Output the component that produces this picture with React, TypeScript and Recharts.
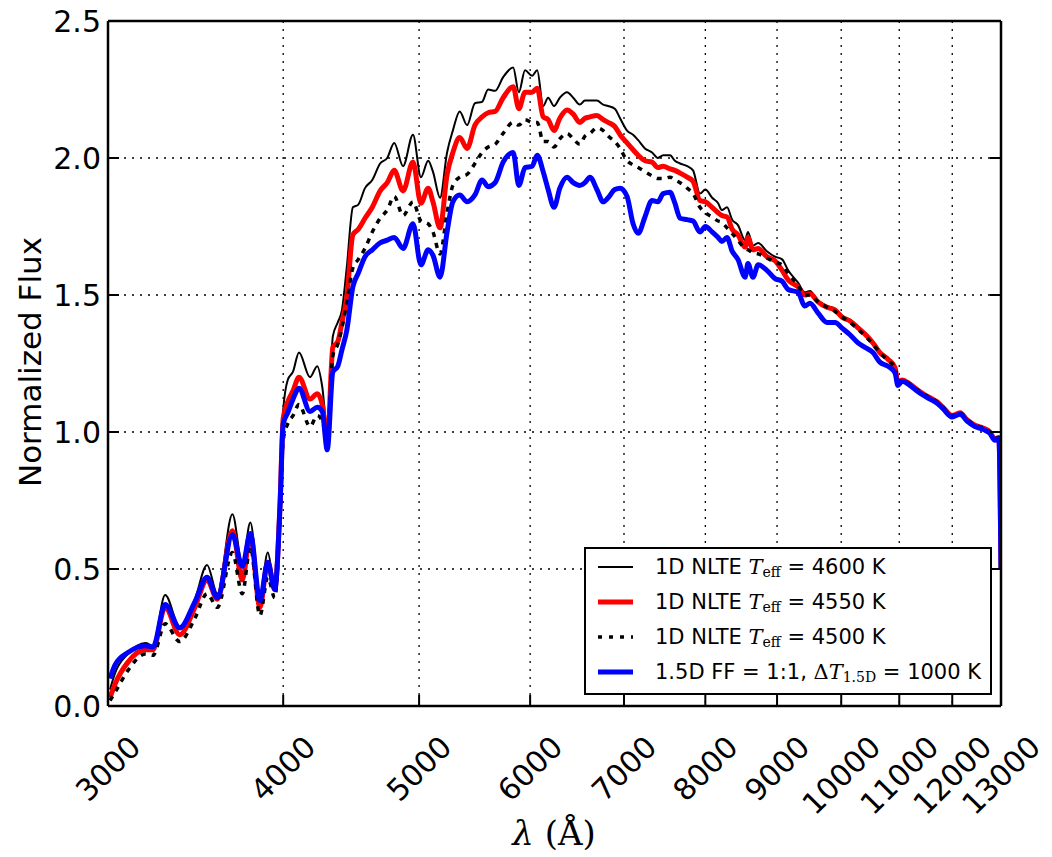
import React from 'react';
import { LineChart, Line, XAxis, YAxis, CartesianGrid } from 'recharts';

// wavelength grid in Angstrom
const wavelength = [
  3010, 3035, 3100, 3190, 3230, 3295, 3375, 3460, 3530, 3590,
  3680, 3740, 3790, 3850, 3900, 3945, 3980, 4000, 4030, 4065,
  4105, 4180, 4230, 4265, 4300, 4340, 4375, 4405, 4440, 4485,
  4525, 4575, 4630, 4690, 4745, 4800, 4870, 4950, 5015, 5075,
  5115, 5175, 5235, 5285, 5345, 5410, 5480, 5545, 5600, 5665,
  5740, 5835, 5890, 5950, 6020, 6070, 6130, 6180, 6240, 6300,
  6375, 6440, 6510, 6565, 6620, 6695, 6765, 6820, 6895, 6955,
  7035, 7105, 7165, 7245, 7330, 7400, 7465, 7550, 7610, 7675,
  7765, 7840, 7930, 8000, 8090, 8170, 8220, 8290, 8360, 8440,
  8540, 8580, 8650, 8725, 8850, 8970, 9075, 9165, 9315, 9420,
  9500, 9625, 9770, 9900, 10010, 10145, 10280, 10430, 10535, 10655,
  10800, 10925, 10975, 11050, 11195, 11325, 11435, 11570, 11705, 11820,
  11995, 12155, 12295, 12455, 12620, 12765, 12870, 12955, 13000,
];

// 1D NLTE Teff = 4600 K
const flux4600 = [
  0.06, 0.12, 0.19, 0.23, 0.22, 0.405, 0.29, 0.39, 0.515, 0.41,
  0.7, 0.52, 0.67, 0.4, 0.56, 0.435, 0.78, 1.08, 1.19, 1.22,
  1.29, 1.2, 1.24, 1.165, 1.01, 1.35, 1.4, 1.445, 1.6, 1.82,
  1.83, 1.89, 1.92, 1.98, 2.0, 2.055, 1.97, 2.085, 1.93, 1.99,
  1.95, 1.855, 2.02, 2.1, 2.17, 2.12, 2.2, 2.205, 2.25, 2.245,
  2.295, 2.33, 2.24, 2.32, 2.3, 2.32, 2.19, 2.22, 2.19, 2.22,
  2.24, 2.22, 2.195, 2.21, 2.21, 2.21, 2.195, 2.19, 2.18, 2.145,
  2.1, 2.085, 2.065, 2.035, 2.02, 2.0, 2.01, 2.01, 1.99, 1.98,
  1.97, 1.955, 1.87, 1.885, 1.855, 1.835, 1.81, 1.82, 1.775, 1.755,
  1.7, 1.73, 1.68, 1.69, 1.66, 1.64, 1.63, 1.59, 1.545, 1.51,
  1.515, 1.48, 1.46, 1.45, 1.425, 1.41, 1.385, 1.355, 1.33, 1.295,
  1.27, 1.24, 1.18, 1.19, 1.175, 1.155, 1.14, 1.125, 1.11, 1.09,
  1.06, 1.07, 1.045, 1.025, 1.015, 1.0, 0.975, 0.98, 0.5,
];

// 1D NLTE Teff = 4550 K
const flux4550 = [
  0.03, 0.08, 0.16, 0.205, 0.205, 0.36, 0.26, 0.36, 0.46, 0.39,
  0.64, 0.46, 0.625, 0.36, 0.525, 0.425, 0.75, 1.05, 1.11, 1.15,
  1.2, 1.12, 1.14, 1.1, 0.96, 1.31, 1.33, 1.4, 1.49, 1.72,
  1.74, 1.78, 1.82, 1.88, 1.91, 1.955, 1.88, 1.985, 1.835, 1.89,
  1.84, 1.745, 1.94, 2.02, 2.075, 2.035, 2.12, 2.15, 2.165, 2.17,
  2.22, 2.26, 2.18, 2.24, 2.24, 2.255, 2.15, 2.14, 2.1, 2.145,
  2.175, 2.16, 2.13, 2.145, 2.15, 2.155, 2.14, 2.13, 2.115, 2.085,
  2.055, 2.03, 2.01, 1.99, 1.985, 1.965, 1.97, 1.96, 1.955, 1.945,
  1.93, 1.915, 1.845, 1.84, 1.82, 1.8, 1.79, 1.785, 1.74, 1.72,
  1.675, 1.71, 1.665, 1.67, 1.64, 1.625, 1.59, 1.555, 1.53, 1.5,
  1.505, 1.475, 1.455, 1.445, 1.42, 1.405, 1.38, 1.35, 1.325, 1.29,
  1.265, 1.235, 1.18, 1.19, 1.175, 1.155, 1.14, 1.125, 1.11, 1.09,
  1.06, 1.07, 1.045, 1.025, 1.015, 1.0, 0.975, 0.98, 0.5,
];

// 1D NLTE Teff = 4500 K
const flux4500 = [
  0.02, 0.05, 0.13, 0.19, 0.185, 0.3, 0.235, 0.32, 0.41, 0.36,
  0.56, 0.41, 0.58, 0.33, 0.47, 0.395, 0.7, 0.97, 1.03, 1.06,
  1.1, 1.02, 1.06, 1.04, 0.97, 1.28, 1.32, 1.38, 1.47, 1.6,
  1.63, 1.67, 1.73, 1.78, 1.81, 1.86, 1.79, 1.84, 1.77, 1.76,
  1.73, 1.65, 1.8, 1.9, 1.93, 1.94, 1.98, 2.02, 2.04, 2.05,
  2.09, 2.13, 2.12, 2.14, 2.13, 2.13, 2.06, 2.06, 2.04, 2.07,
  2.09, 2.07, 2.05, 2.08, 2.09, 2.11, 2.1, 2.08, 2.06, 2.035,
  1.99, 1.975, 1.965, 1.95, 1.935, 1.925, 1.925, 1.93, 1.92, 1.91,
  1.89, 1.87, 1.82, 1.8, 1.785, 1.77, 1.765, 1.745, 1.725, 1.7,
  1.67, 1.665, 1.655, 1.65, 1.635, 1.62, 1.61, 1.58, 1.535, 1.5,
  1.5, 1.475, 1.455, 1.44, 1.42, 1.4, 1.375, 1.345, 1.32, 1.29,
  1.26, 1.235, 1.18, 1.19, 1.175, 1.155, 1.14, 1.125, 1.11, 1.09,
  1.06, 1.07, 1.045, 1.025, 1.015, 1.0, 0.975, 0.98, 0.5,
];

// 1.5D FF = 1:1, dT = 1000 K
const flux15D = [
  0.1, 0.15, 0.195, 0.22, 0.215, 0.37, 0.285, 0.38, 0.47, 0.395,
  0.625, 0.51, 0.63, 0.385, 0.525, 0.425, 0.74, 1.03, 1.07, 1.12,
  1.16, 1.075, 1.09, 1.075, 0.935, 1.22, 1.24, 1.3, 1.37, 1.53,
  1.58, 1.64, 1.665, 1.69, 1.7, 1.71, 1.67, 1.76, 1.61, 1.665,
  1.645, 1.565, 1.73, 1.84, 1.865, 1.84, 1.865, 1.92, 1.895, 1.91,
  1.985, 2.02, 1.9, 1.965, 1.97, 2.01, 1.95, 1.885, 1.82, 1.89,
  1.93, 1.91, 1.9, 1.91, 1.93, 1.885, 1.84, 1.855, 1.885, 1.89,
  1.86, 1.76, 1.725, 1.785, 1.845, 1.84, 1.87, 1.875, 1.835, 1.78,
  1.775, 1.77, 1.73, 1.75, 1.73, 1.71, 1.695, 1.71, 1.66, 1.63,
  1.565, 1.615, 1.565, 1.61, 1.59, 1.56, 1.55, 1.52, 1.51, 1.46,
  1.47, 1.435, 1.4, 1.4, 1.38, 1.355, 1.325, 1.305, 1.29, 1.255,
  1.24, 1.215, 1.17, 1.185, 1.17, 1.15, 1.135, 1.12, 1.105, 1.085,
  1.055, 1.065, 1.04, 1.02, 1.01, 0.995, 0.97, 0.975, 0.5,
];

const xTicks = [3000, 4000, 5000, 6000, 7000, 8000, 9000, 10000, 11000, 12000, 13000];
const yTicks = [0, 0.5, 1, 1.5, 2, 2.5];

const data = wavelength.map((w, i) => ({
  w,
  t4600: flux4600[i],
  t4550: flux4550[i],
  t4500: flux4500[i],
  ff: flux15D[i],
}));

const SANS = '"DejaVu Sans", "Liberation Sans", sans-serif';
const SERIF = '"DejaVu Serif", "Liberation Serif", serif';
const TICK_LEN = 11;
const FS = 30;

// ticks point inwards, like matplotlib classic
const BottomTick = (props: any) => {
  const { x, y, payload } = props;
  const label = String(payload.value);
  const diag = (label.length * 0.636 * FS + FS * 1.1) * 0.7071;
  const cy = y + 24 + diag / 2;
  return (
    <g>
      <line x1={x} x2={x} y1={y} y2={y - TICK_LEN} stroke="#000" strokeWidth={2} />
      <text
        x={x}
        y={cy}
        transform={`rotate(-45 ${x} ${cy})`}
        textAnchor="middle"
        dominantBaseline="central"
        fontSize={FS}
        fontFamily={SANS}
        fill="#000"
      >
        {label}
      </text>
    </g>
  );
};

const TopTick = (props: any) => {
  const { x, y } = props;
  return <line x1={x} x2={x} y1={y} y2={y + TICK_LEN} stroke="#000" strokeWidth={2} />;
};

const LeftTick = (props: any) => {
  const { x, y, payload } = props;
  return (
    <g>
      <line x1={x} x2={x + TICK_LEN} y1={y} y2={y} stroke="#000" strokeWidth={2} />
      <text
        x={x - 7}
        y={y}
        textAnchor="end"
        dominantBaseline="central"
        fontSize={FS}
        fontFamily={SANS}
        fill="#000"
      >
        {Number(payload.value).toFixed(1)}
      </text>
    </g>
  );
};

const RightTick = (props: any) => {
  const { x, y } = props;
  return <line x1={x - TICK_LEN} x2={x} y1={y} y2={y} stroke="#000" strokeWidth={2} />;
};

const xTitle = () => (
  <text x={554} y={833} textAnchor="middle" dominantBaseline="central" fontSize={34} fontFamily={SERIF} fill="#000">
    <tspan fontStyle="italic">λ</tspan>
    {' (Å)'}
  </text>
);

const yTitle = () => (
  <text
    x={30}
    y={362}
    transform="rotate(-90 30 362)"
    textAnchor="middle"
    dominantBaseline="central"
    fontSize={31}
    fontFamily={SANS}
    fill="#000"
  >
    Normalized Flux
  </text>
);

const legendRows = [
  { pre: '1D NLTE ', math: 'T', sub: 'eff', post: ' = 4600 K', color: '#000', width: 2, dash: undefined },
  { pre: '1D NLTE ', math: 'T', sub: 'eff', post: ' = 4550 K', color: '#ff0000', width: 5, dash: undefined },
  { pre: '1D NLTE ', math: 'T', sub: 'eff', post: ' = 4500 K', color: '#000', width: 3.5, dash: '4 7' },
  { pre: '1.5D FF = 1:1, ', math: 'ΔT', sub: '1.5D', post: ' = 1000 K', color: '#0000ff', width: 5, dash: undefined },
];

function LegendBox() {
  return (
    <svg
      width={408}
      height={148}
      style={{ position: 'absolute', left: 584, top: 547 }}
    >
      <rect x={1} y={1} width={406} height={146} fill="#fff" stroke="#000" strokeWidth={2} />
      {legendRows.map((r, i) => {
        const cy = 20 + i * 35;
        return (
          <g key={i}>
            <line x1={14} x2={49} y1={cy} y2={cy} stroke={r.color} strokeWidth={r.width} strokeDasharray={r.dash} />
            <text x={71} y={cy} dominantBaseline="central" fontSize={21} fontFamily={SANS} fill="#000">
              {r.pre}
              {r.math === 'ΔT' ? (
                <tspan fontFamily={SERIF}>Δ<tspan fontStyle="italic">T</tspan></tspan>
              ) : (
                <tspan fontFamily={SERIF} fontStyle="italic">T</tspan>
              )}
              <tspan fontFamily={SERIF} fontSize={14} dy={5}>{r.sub}</tspan>
              <tspan dy={-5}>{r.post}</tspan>
            </text>
          </g>
        );
      })}
    </svg>
  );
}

export default function App() {
  return (
    <div style={{ position: 'absolute', left: 0, top: 0, width: 1052, height: 857, background: '#fff' }}>
      <LineChart width={1052} height={857} data={data} margin={{ top: 20, right: 0, bottom: 6, left: 0 }}>
        <CartesianGrid stroke="#000" strokeWidth={1.3} strokeDasharray="2 6" />
        <XAxis
          dataKey="w"
          type="number"
          scale="log"
          domain={[3000, 13000]}
          ticks={xTicks}
          interval={0}
          allowDataOverflow
          height={145}
          tickSize={0}
          tickMargin={0}
          tickLine={false}
          tick={<BottomTick />}
          axisLine={{ stroke: '#000', strokeWidth: 2.5 }}
          label={xTitle}
        />
        <XAxis
          xAxisId="top"
          orientation="top"
          type="number"
          scale="log"
          domain={[3000, 13000]}
          ticks={xTicks}
          interval={0}
          allowDataOverflow
          height={1}
          tickSize={0}
          tickMargin={0}
          tickLine={false}
          tick={<TopTick />}
          axisLine={{ stroke: '#000', strokeWidth: 2.5 }}
        />
        <YAxis
          type="number"
          domain={[0, 2.5]}
          ticks={yTicks}
          interval={0}
          allowDataOverflow
          width={108}
          tickSize={0}
          tickMargin={0}
          tickLine={false}
          tick={<LeftTick />}
          axisLine={{ stroke: '#000', strokeWidth: 2.5 }}
          label={yTitle}
        />
        <YAxis
          yAxisId="right"
          orientation="right"
          type="number"
          domain={[0, 2.5]}
          ticks={yTicks}
          interval={0}
          allowDataOverflow
          width={51}
          tickSize={0}
          tickMargin={0}
          tickLine={false}
          tick={<RightTick />}
          axisLine={{ stroke: '#000', strokeWidth: 2.5 }}
        />
        <Line dataKey="t4600" type="monotone" stroke="#000" strokeWidth={2} dot={false} activeDot={false} isAnimationActive={false} />
        <Line dataKey="t4550" type="monotone" stroke="#ff0000" strokeWidth={5} dot={false} activeDot={false} isAnimationActive={false} />
        <Line dataKey="t4500" type="monotone" stroke="#000" strokeWidth={3.5} strokeDasharray="5 6" dot={false} activeDot={false} isAnimationActive={false} />
        <Line dataKey="ff" type="monotone" stroke="#0000ff" strokeWidth={5} dot={false} activeDot={false} isAnimationActive={false} />
      </LineChart>
      <LegendBox />
    </div>
  );
}
